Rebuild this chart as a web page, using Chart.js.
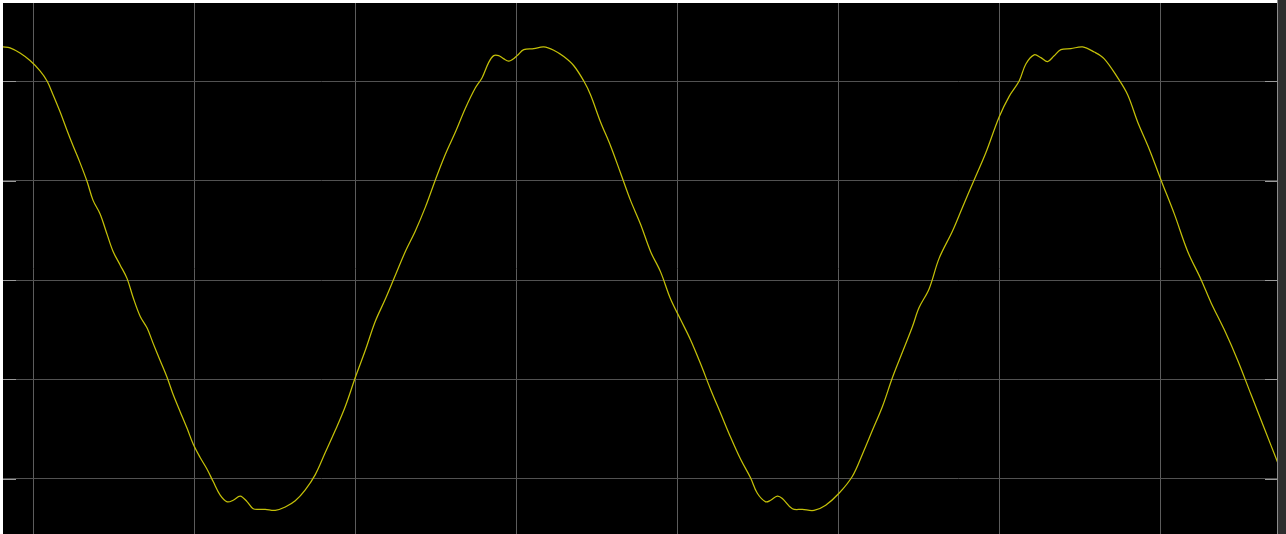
<!DOCTYPE html>
<html>
<head>
<meta charset="utf-8">
<script src="https://cdn.jsdelivr.net/npm/chart.js@4"></script>
<style>
  html, body { margin: 0; padding: 0; background: #fff; width: 1286px; height: 534px; overflow: hidden; }
  #scope { position: absolute; left: 3px; top: 3px; width: 1274px; height: 531px; background: #000; }
  #edge { position: absolute; left: 1277px; top: 0; width: 1px; height: 534px; background: #8c8c8c; }
  #side { position: absolute; left: 1278px; top: 0; width: 8px; height: 534px; background: #2e2e2e; }
</style>
</head>
<body>
<div id="scope"><canvas id="wave"></canvas></div>
<div id="edge"></div>
<div id="side"></div>
<script>
// time in ms (5 ms per division), voltage in V (50 V per division)
const times = [
  -0.932, -0.714, -0.404, -0.093, 0.217, 0.435, 0.621, 0.839, 1.056, 1.242,
  1.460, 1.677, 1.863, 2.081, 2.298, 2.484, 2.702, 2.919, 3.106, 3.323,
  3.540, 3.727, 3.944, 4.161, 4.348, 4.565, 4.783, 4.969, 5.186, 5.404,
  5.590, 5.807, 6.025, 6.211, 6.429, 6.646, 6.832, 7.050, 7.205, 7.516,
  7.826, 8.137, 8.447, 8.758, 9.068, 9.379, 9.689, 10.000, 10.311, 10.621,
  10.932, 11.242, 11.553, 11.863, 12.174, 12.484, 12.795, 13.106, 13.416, 13.727,
  13.935, 14.140, 14.295, 14.450, 14.596, 14.761, 14.876, 15.022, 15.227, 15.537,
  15.848, 16.158, 16.469, 16.780, 17.090, 17.298, 17.609, 17.919, 18.230, 18.540,
  18.851, 19.161, 19.472, 19.783, 20.093, 20.404, 20.714, 21.025, 21.335, 21.646,
  21.957, 22.267, 22.475, 22.733, 22.888, 23.096, 23.251, 23.562, 23.873, 24.233,
  24.596, 25.009, 25.425, 25.736, 26.046, 26.357, 26.668, 26.978, 27.289, 27.494,
  27.804, 28.115, 28.531, 28.842, 29.202, 29.565, 29.978, 30.289, 30.599, 30.807,
  31.065, 31.273, 31.481, 31.677, 31.894, 32.205, 32.569, 32.929, 33.240, 33.655,
  33.966, 34.276, 34.637, 35.000, 35.413, 35.829, 36.242, 36.553, 36.966, 37.382,
  37.795, 38.208, 38.624
];
const volts = [
  117.4, 116.9, 114.3, 110.5, 105.3, 100.2, 93.3, 84.7, 75.3, 67.6,
  59.0, 49.6, 40.1, 33.3, 23.0, 14.4, 7.6, 0.7, -8.8, -18.2,
  -24.2, -31.9, -40.5, -49.1, -57.7, -66.3, -74.8, -82.6, -89.4, -95.4,
  -101.5, -108.3, -111.7, -110.9, -108.8, -111.7, -115.2, -115.5, -115.5, -116.0,
  -114.3, -111.2, -105.7, -98.0, -86.9, -75.7, -63.7, -49.1, -35.4, -20.8,
  -9.6, 2.4, 14.4, 24.7, 36.7, 50.4, 63.3, 74.5, 86.5, 96.8,
  101.9, 109.6, 113.0, 113.0, 111.5, 110.2, 111.0, 113.0, 116.0, 116.5,
  117.4, 115.7, 112.5, 107.9, 100.2, 93.3, 79.6, 67.6, 53.9, 40.1,
  28.1, 14.4, 4.1, -9.6, -19.9, -30.2, -42.2, -55.1, -67.1, -79.2,
  -90.3, -99.7, -107.4, -111.7, -110.9, -108.8, -110.0, -115.2, -115.5, -116.0,
  -113.4, -107.4, -98.8, -87.7, -75.7, -63.7, -49.1, -36.3, -23.4, -13.9,
  -4.5, 10.9, 24.7, 36.7, 50.4, 64.1, 82.1, 92.5, 100.2, 108.8,
  113.4, 112.0, 110.0, 112.8, 116.0, 116.5, 117.4, 114.8, 111.4, 101.9,
  93.3, 79.6, 65.9, 50.4, 33.3, 14.4, 0.3, -11.4, -25.1, -40.5,
  -57.7, -74.8, -92.0
];
const timeTicks = [0, 5, 10, 15, 20, 25, 30, 35];
const voltTicks = [-100, -50, 0, 50, 100];

const points = times.map((t, i) => ({ x: t, y: volts[i] }));

// short bright marks on the inside of both side edges
const edgeTicks = {
  id: 'edgeTicks',
  beforeDatasetsDraw(chart) {
    const c = chart.ctx, a = chart.chartArea, ys = chart.scales.y;
    c.save();
    c.strokeStyle = '#9a9a9a';
    c.lineWidth = 1;
    voltTicks.forEach(v => {
      const py = Math.round(ys.getPixelForValue(v)) + 0.5;
      c.beginPath();
      c.moveTo(a.left, py); c.lineTo(a.left + 13, py);
      c.moveTo(a.right - 12, py); c.lineTo(a.right, py);
      c.stroke();
    });
    c.restore();
  }
};

new Chart(document.getElementById('wave'), {
  type: 'line',
  data: {
    datasets: [{
      data: points,
      borderColor: 'rgb(196,192,8)',
      borderWidth: 1.25,
      pointRadius: 0,
      tension: 0.35,
      fill: false
    }]
  },
  options: {
    responsive: true,
    maintainAspectRatio: false,
    animation: false,
    layout: { padding: 0 },
    plugins: { legend: { display: false }, tooltip: { enabled: false } },
    scales: {
      x: {
        type: 'linear',
        min: -0.932,
        max: 38.6,
        afterBuildTicks: s => { s.ticks = timeTicks.map(v => ({ value: v })); },
        ticks: { display: false },
        border: { display: false },
        grid: { color: '#5c5c5c', lineWidth: 1, drawTicks: false }
      },
      y: {
        min: -127.9,
        max: 139.5,
        afterBuildTicks: s => { s.ticks = voltTicks.map(v => ({ value: v })); },
        ticks: { display: false },
        border: { display: false },
        grid: { color: '#525252', lineWidth: 1, drawTicks: false }
      }
    }
  },
  plugins: [edgeTicks]
});
</script>
</body>
</html>
